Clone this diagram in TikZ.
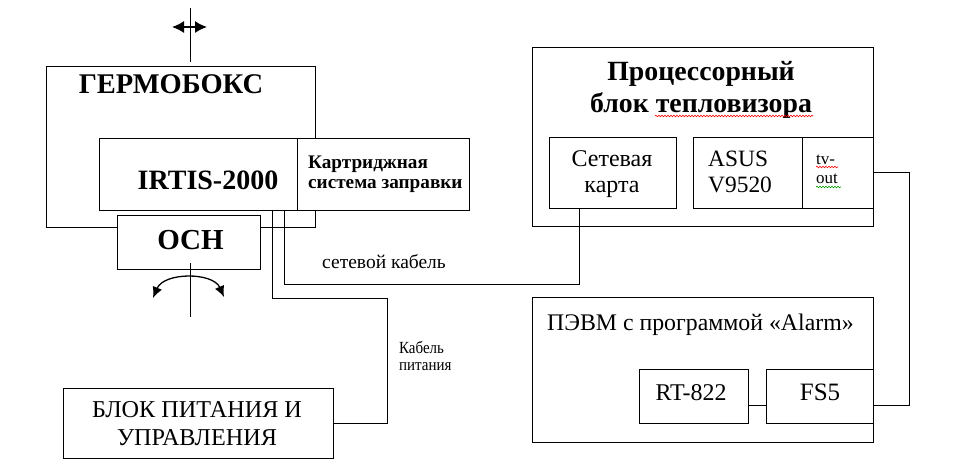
\documentclass[tikz,border=0pt]{standalone}
\usepackage{fontspec}
\setmainfont{Liberation Serif}
\newfontfamily\condserif[FakeStretch=0.88]{Liberation Serif}
\usetikzlibrary{arrows.meta,calc,decorations.pathmorphing}
\begin{document}
\begin{tikzpicture}[x=1pt,y=-1pt,
  box/.style={draw, line width=1pt, fill=white, inner sep=0pt},
  wire/.style={line width=1pt},
  lbl/.style={inner sep=0pt},
  wavy/.style={line width=0.6pt, decorate, decoration={snake, amplitude=0.8pt, segment length=3pt}}]
\path[use as bounding box, fill=white] (0,0) rectangle (953,472);

% --- left group ---
\node[box, minimum width=269pt, minimum height=161pt] (herm) at (180.5,146.5) {};
\node[box, minimum width=198pt, minimum height=72pt] (irtis) at (198,174) {};
\node[box, minimum width=172pt, minimum height=72pt] (kart) at (383,174) {};
\node[box, minimum width=143pt, minimum height=54pt] (och) at (188.5,242) {};

\node[lbl, anchor=base, font=\bfseries\fontsize{28.5}{30}\selectfont] (thermt) at (171,93) {ГЕРМОБОКС};
\node[lbl, anchor=base, font=\bfseries\fontsize{28}{30}\selectfont] (tirtis) at (208,189) {IRTIS-2000};
\node[lbl, anchor=base west, align=left, font=\bfseries\fontsize{19.2}{20}\selectfont] (tkart) at (308,188) {Картриджная\\система заправки};
\node[lbl, anchor=base, font=\bfseries\fontsize{29}{30}\selectfont] (toch) at (190.5,249) {ОСН};

% axis arrows
\coordinate (axT1) at (190,8);
\coordinate (axT2) at (190,62);
\coordinate (arT1) at (172,27);
\coordinate (arT2) at (207,27);
\draw[wire] (axT1) -- (axT2);
\draw[line width=1.5pt, {Latex[length=12pt,width=12pt]}-{Latex[length=12pt,width=12pt]}] (arT1) -- (arT2);

\coordinate (axB1) at (190,263);
\coordinate (axB2) at (190,317);
\draw[wire] (axB1) -- (axB2);
\coordinate (rotL) at (153,298);
\coordinate (rotR) at (224,297);
\draw[line width=1.3pt, {Latex[length=11pt,width=10pt]}-{Latex[length=11pt,width=10pt]}] (rotL) .. controls (164,272) and (213,272) .. (rotR);

% --- processor block ---
\node[box, minimum width=341pt, minimum height=179pt] (proc) at (702.5,136.5) {};
\node[box, minimum width=127pt, minimum height=71pt] (netcard) at (612.5,172.5) {};
\node[box, minimum width=109pt, minimum height=71pt] (asus) at (747.5,172.5) {};
\node[box, minimum width=71pt, minimum height=71pt] (tvout) at (837.5,172.5) {};

\node[lbl, anchor=base, align=center, font=\bfseries\fontsize{27.8}{32}\selectfont] (tproc) at (701,112) {Процессорный\\блок тепловизора};
\node[lbl, anchor=base, align=center, font=\fontsize{24}{26}\selectfont] (tnet) at (612,192) {Сетевая\\карта};
\node[lbl, anchor=base west, align=left, font=\fontsize{23.4}{26}\selectfont] (tasus) at (708,192) {ASUS\\V9520};
\node[lbl, anchor=base west, align=left, font=\fontsize{17}{19}\selectfont] (ttv) at (816,183) {tv-\\out};

\draw[wavy, red] (655,116) -- (813,116);
\draw[wavy, red] (816,167) -- (838,167);
\draw[wavy, green!60!black] (816,187) -- (841,187);

% --- PC ---
\node[box, minimum width=341pt, minimum height=145pt] (pevm) at (702.5,369.5) {};
\node[box, minimum width=109pt, minimum height=54pt] (rt) at (693.5,396) {};
\node[box, minimum width=107pt, minimum height=54pt] (fs) at (819.5,396) {};
\node[lbl, anchor=base west, font=\fontsize{23.8}{26}\selectfont] (tpevm) at (547,330) {ПЭВМ с программой «Alarm»};
\node[lbl, anchor=base, font=\fontsize{24}{26}\selectfont] (trt) at (691,400) {RT-822};
\node[lbl, anchor=base, font=\fontsize{25}{26}\selectfont] (tfs) at (820,400) {FS5};

% --- power block ---
\node[box, minimum width=270pt, minimum height=70pt] (power) at (198,423) {};
\node[lbl, anchor=base, align=center, font=\fontsize{24.2}{28}\selectfont] (tpower) at (197,445) {БЛОК ПИТАНИЯ И\\УПРАВЛЕНИЯ};

% --- cables ---
\coordinate (pw1) at (272,298);
\coordinate (pw2) at (387,298);
\draw[wire] (irtis.south -| pw1) -- (pw1) -- (pw2) -- (pw2 |- power.east) -- (power.east);
\coordinate (nt1) at (284,284);
\coordinate (nt2) at (579,284);
\draw[wire] (irtis.south -| nt1) -- (nt1) -- (nt2) -- (netcard.south -| nt2);
\coordinate (tv1) at (909,172.5);
\coordinate (tv2) at (909,405);
\draw[wire] (tvout.east) -- (tv1) -- (tv2) -- (fs.east |- tv2);
\draw[wire] (rt.east |- tv2) -- (fs.west |- tv2);

\node[lbl, anchor=base west, font=\fontsize{19.5}{21}\selectfont] (tnetc) at (322,268) {сетевой кабель};
\node[lbl, anchor=base west, align=left, font=\condserif\fontsize{17}{17}\selectfont] (tpwc) at (399,370) {Кабель\\питания};
\end{tikzpicture}
\end{document}
